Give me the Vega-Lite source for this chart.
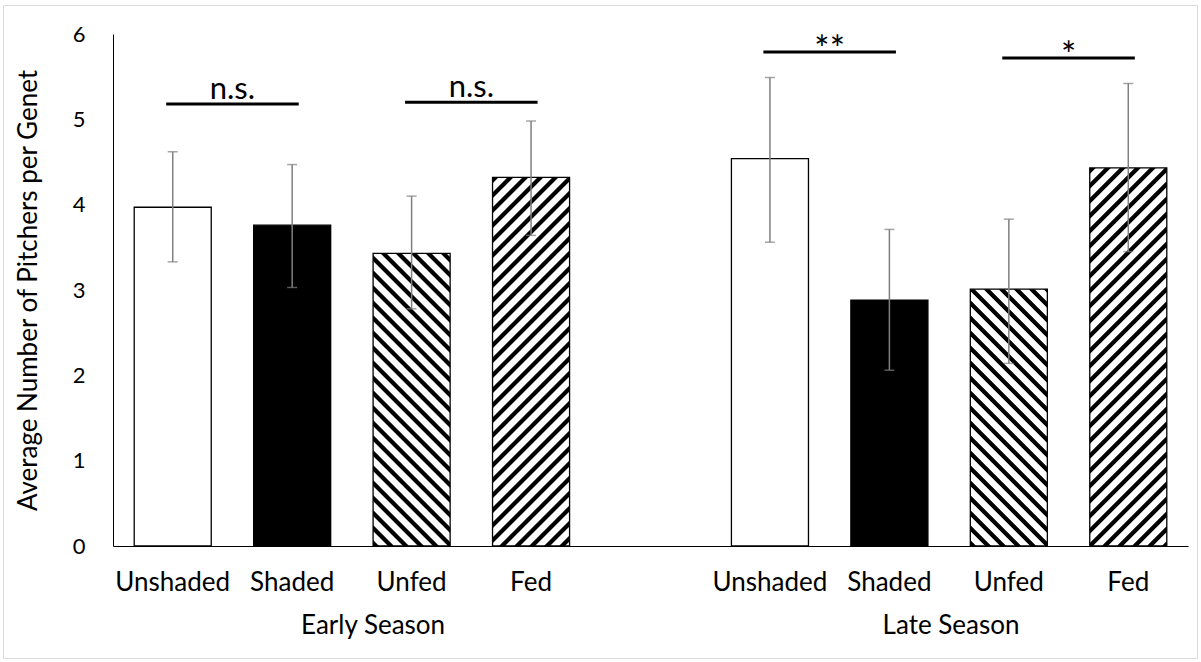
{
  "$schema": "https://vega.github.io/schema/vega-lite/v6.json",
  "width": 1194,
  "height": 653,
  "padding": {"left": 3, "top": 5, "right": 4, "bottom": 4},
  "autosize": {"type": "pad"},
  "background": "#ffffff",
  "config": {
    "view": {"stroke": "#d9d9d9", "strokeWidth": 1},
    "font": "Lato",
    "text": {"font": "Lato"}
  },
  "data": {
    "values": [
      {"key": "E|Unshaded", "season": "Early Season", "treatment": "Unshaded", "mean": 3.97, "lo": 3.33, "hi": 4.62},
      {"key": "E|Shaded", "season": "Early Season", "treatment": "Shaded", "mean": 3.76, "lo": 3.03, "hi": 4.47},
      {"key": "E|Unfed", "season": "Early Season", "treatment": "Unfed", "mean": 3.43, "lo": 2.78, "hi": 4.10},
      {"key": "E|Fed", "season": "Early Season", "treatment": "Fed", "mean": 4.32, "lo": 3.64, "hi": 4.98},
      {"key": "L|Unshaded", "season": "Late Season", "treatment": "Unshaded", "mean": 4.54, "lo": 3.56, "hi": 5.49},
      {"key": "L|Shaded", "season": "Late Season", "treatment": "Shaded", "mean": 2.88, "lo": 2.06, "hi": 3.71},
      {"key": "L|Unfed", "season": "Late Season", "treatment": "Unfed", "mean": 3.01, "lo": 2.14, "hi": 3.83},
      {"key": "L|Fed", "season": "Late Season", "treatment": "Fed", "mean": 4.43, "lo": 3.45, "hi": 5.42}
    ]
  },
  "layer": [
    {
      "mark": {"type": "bar", "stroke": "#000000", "strokeWidth": 1.3},
      "encoding": {
        "x": {
          "field": "key", "type": "nominal",
          "scale": {
            "domain": ["E|Unshaded", "E|Shaded", "E|Unfed", "E|Fed", "gap", "L|Unshaded", "L|Shaded", "L|Unfed", "L|Fed"],
            "range": [110, 1185], "paddingInner": 0.355, "paddingOuter": 0.1775
          },
          "axis": {
            "title": null, "labelExpr": "datum.value == 'gap' ? '' : split(datum.value, '|')[1]",
            "ticks": false, "tickSize": 0, "grid": false, "domainColor": "#000000", "domainWidth": 1,
            "labelFont": "Lato", "labelFontSize": 26, "labelColor": "#000000", "labelAngle": 0,
            "labelPadding": 44, "labelBaseline": "alphabetic", "offset": -112
          }
        },
        "y": {
          "field": "mean", "type": "quantitative",
          "scale": {"domain": [0, 6], "range": [541, 29], "nice": false},
          "axis": {
            "title": "Average Number of Pitchers per Genet", "values": [0, 1, 2, 3, 4, 5, 6], "format": "d",
            "ticks": false, "tickSize": 0, "grid": false, "domainColor": "#000000", "domainWidth": 1,
            "labelFont": "Lato", "labelFontSize": 22, "labelColor": "#000000", "labelPadding": 28,
            "titleFont": "Lato", "titleFontSize": 26, "titleFontWeight": "normal", "titleColor": "#000000",
            "titlePadding": 31, "offset": -110
          }
        },
        "fill": {
          "condition": [
            {"test": "datum.treatment === 'Shaded'", "value": "#000000"},
            {"test": "datum.key === 'E|Unfed'", "value": {"gradient": "linear", "x1": 0, "y1": 1, "x2": 0.4205, "y2": -0.5976, "stops": [
{"offset":0.0012,"color":"#000"},{"offset":0.0108,"color":"#000"},{"offset":0.0132,"color":"#fff"},{"offset":0.0288,"color":"#fff"},
{"offset":0.0312,"color":"#000"},{"offset":0.0408,"color":"#000"},{"offset":0.0432,"color":"#fff"},{"offset":0.0588,"color":"#fff"},
{"offset":0.0612,"color":"#000"},{"offset":0.0708,"color":"#000"},{"offset":0.0732,"color":"#fff"},{"offset":0.0888,"color":"#fff"},
{"offset":0.0912,"color":"#000"},{"offset":0.1008,"color":"#000"},{"offset":0.1032,"color":"#fff"},{"offset":0.1188,"color":"#fff"},
{"offset":0.1212,"color":"#000"},{"offset":0.1308,"color":"#000"},{"offset":0.1332,"color":"#fff"},{"offset":0.1488,"color":"#fff"},
{"offset":0.1512,"color":"#000"},{"offset":0.1608,"color":"#000"},{"offset":0.1632,"color":"#fff"},{"offset":0.1788,"color":"#fff"},
{"offset":0.1812,"color":"#000"},{"offset":0.1908,"color":"#000"},{"offset":0.1932,"color":"#fff"},{"offset":0.2088,"color":"#fff"},
{"offset":0.2112,"color":"#000"},{"offset":0.2208,"color":"#000"},{"offset":0.2232,"color":"#fff"},{"offset":0.2388,"color":"#fff"},
{"offset":0.2412,"color":"#000"},{"offset":0.2508,"color":"#000"},{"offset":0.2532,"color":"#fff"},{"offset":0.2688,"color":"#fff"},
{"offset":0.2712,"color":"#000"},{"offset":0.2808,"color":"#000"},{"offset":0.2832,"color":"#fff"},{"offset":0.2988,"color":"#fff"},
{"offset":0.3012,"color":"#000"},{"offset":0.3108,"color":"#000"},{"offset":0.3132,"color":"#fff"},{"offset":0.3288,"color":"#fff"},
{"offset":0.3312,"color":"#000"},{"offset":0.3408,"color":"#000"},{"offset":0.3432,"color":"#fff"},{"offset":0.3588,"color":"#fff"},
{"offset":0.3612,"color":"#000"},{"offset":0.3708,"color":"#000"},{"offset":0.3732,"color":"#fff"},{"offset":0.3888,"color":"#fff"},
{"offset":0.3912,"color":"#000"},{"offset":0.4008,"color":"#000"},{"offset":0.4032,"color":"#fff"},{"offset":0.4188,"color":"#fff"},
{"offset":0.4212,"color":"#000"},{"offset":0.4308,"color":"#000"},{"offset":0.4332,"color":"#fff"},{"offset":0.4488,"color":"#fff"},
{"offset":0.4512,"color":"#000"},{"offset":0.4608,"color":"#000"},{"offset":0.4632,"color":"#fff"},{"offset":0.4788,"color":"#fff"},
{"offset":0.4812,"color":"#000"},{"offset":0.4908,"color":"#000"},{"offset":0.4932,"color":"#fff"},{"offset":0.5088,"color":"#fff"},
{"offset":0.5112,"color":"#000"},{"offset":0.5208,"color":"#000"},{"offset":0.5232,"color":"#fff"},{"offset":0.5388,"color":"#fff"},
{"offset":0.5412,"color":"#000"},{"offset":0.5508,"color":"#000"},{"offset":0.5532,"color":"#fff"},{"offset":0.5688,"color":"#fff"},
{"offset":0.5712,"color":"#000"},{"offset":0.5808,"color":"#000"},{"offset":0.5832,"color":"#fff"},{"offset":0.5988,"color":"#fff"},
{"offset":0.6012,"color":"#000"},{"offset":0.6108,"color":"#000"},{"offset":0.6132,"color":"#fff"},{"offset":0.6288,"color":"#fff"},
{"offset":0.6312,"color":"#000"},{"offset":0.6408,"color":"#000"},{"offset":0.6432,"color":"#fff"},{"offset":0.6588,"color":"#fff"},
{"offset":0.6612,"color":"#000"},{"offset":0.6708,"color":"#000"},{"offset":0.6732,"color":"#fff"},{"offset":0.6888,"color":"#fff"},
{"offset":0.6912,"color":"#000"},{"offset":0.7008,"color":"#000"},{"offset":0.7032,"color":"#fff"},{"offset":0.7188,"color":"#fff"},
{"offset":0.7212,"color":"#000"},{"offset":0.7308,"color":"#000"},{"offset":0.7332,"color":"#fff"},{"offset":0.7488,"color":"#fff"}
            ]}},
            {"test": "datum.key === 'L|Unfed'", "value": {"gradient": "linear", "x1": 0, "y1": 1, "x2": 0.5359, "y2": -0.7863, "stops": [
{"offset":0.0012,"color":"#000"},{"offset":0.0108,"color":"#000"},{"offset":0.0132,"color":"#fff"},{"offset":0.0288,"color":"#fff"},
{"offset":0.0312,"color":"#000"},{"offset":0.0408,"color":"#000"},{"offset":0.0432,"color":"#fff"},{"offset":0.0588,"color":"#fff"},
{"offset":0.0612,"color":"#000"},{"offset":0.0708,"color":"#000"},{"offset":0.0732,"color":"#fff"},{"offset":0.0888,"color":"#fff"},
{"offset":0.0912,"color":"#000"},{"offset":0.1008,"color":"#000"},{"offset":0.1032,"color":"#fff"},{"offset":0.1188,"color":"#fff"},
{"offset":0.1212,"color":"#000"},{"offset":0.1308,"color":"#000"},{"offset":0.1332,"color":"#fff"},{"offset":0.1488,"color":"#fff"},
{"offset":0.1512,"color":"#000"},{"offset":0.1608,"color":"#000"},{"offset":0.1632,"color":"#fff"},{"offset":0.1788,"color":"#fff"},
{"offset":0.1812,"color":"#000"},{"offset":0.1908,"color":"#000"},{"offset":0.1932,"color":"#fff"},{"offset":0.2088,"color":"#fff"},
{"offset":0.2112,"color":"#000"},{"offset":0.2208,"color":"#000"},{"offset":0.2232,"color":"#fff"},{"offset":0.2388,"color":"#fff"},
{"offset":0.2412,"color":"#000"},{"offset":0.2508,"color":"#000"},{"offset":0.2532,"color":"#fff"},{"offset":0.2688,"color":"#fff"},
{"offset":0.2712,"color":"#000"},{"offset":0.2808,"color":"#000"},{"offset":0.2832,"color":"#fff"},{"offset":0.2988,"color":"#fff"},
{"offset":0.3012,"color":"#000"},{"offset":0.3108,"color":"#000"},{"offset":0.3132,"color":"#fff"},{"offset":0.3288,"color":"#fff"},
{"offset":0.3312,"color":"#000"},{"offset":0.3408,"color":"#000"},{"offset":0.3432,"color":"#fff"},{"offset":0.3588,"color":"#fff"},
{"offset":0.3612,"color":"#000"},{"offset":0.3708,"color":"#000"},{"offset":0.3732,"color":"#fff"},{"offset":0.3888,"color":"#fff"},
{"offset":0.3912,"color":"#000"},{"offset":0.4008,"color":"#000"},{"offset":0.4032,"color":"#fff"},{"offset":0.4188,"color":"#fff"},
{"offset":0.4212,"color":"#000"},{"offset":0.4308,"color":"#000"},{"offset":0.4332,"color":"#fff"},{"offset":0.4488,"color":"#fff"},
{"offset":0.4512,"color":"#000"},{"offset":0.4608,"color":"#000"},{"offset":0.4632,"color":"#fff"},{"offset":0.4788,"color":"#fff"},
{"offset":0.4812,"color":"#000"},{"offset":0.4908,"color":"#000"},{"offset":0.4932,"color":"#fff"},{"offset":0.5088,"color":"#fff"},
{"offset":0.5112,"color":"#000"},{"offset":0.5208,"color":"#000"},{"offset":0.5232,"color":"#fff"},{"offset":0.5388,"color":"#fff"},
{"offset":0.5412,"color":"#000"},{"offset":0.5508,"color":"#000"},{"offset":0.5532,"color":"#fff"},{"offset":0.5688,"color":"#fff"},
{"offset":0.5712,"color":"#000"},{"offset":0.5808,"color":"#000"},{"offset":0.5832,"color":"#fff"},{"offset":0.5988,"color":"#fff"},
{"offset":0.6012,"color":"#000"},{"offset":0.6108,"color":"#000"},{"offset":0.6132,"color":"#fff"},{"offset":0.6288,"color":"#fff"},
{"offset":0.6312,"color":"#000"},{"offset":0.6408,"color":"#000"},{"offset":0.6432,"color":"#fff"},{"offset":0.6588,"color":"#fff"},
{"offset":0.6612,"color":"#000"},{"offset":0.6708,"color":"#000"},{"offset":0.6732,"color":"#fff"},{"offset":0.6888,"color":"#fff"}
            ]}},
            {"test": "datum.key === 'E|Fed'", "value": {"gradient": "linear", "x1": 0, "y1": 0, "x2": 0.2716, "y2": 1.2997, "stops": [
{"offset":0.0012,"color":"#000"},{"offset":0.0108,"color":"#000"},{"offset":0.0132,"color":"#fff"},{"offset":0.0288,"color":"#fff"},
{"offset":0.0312,"color":"#000"},{"offset":0.0408,"color":"#000"},{"offset":0.0432,"color":"#fff"},{"offset":0.0588,"color":"#fff"},
{"offset":0.0612,"color":"#000"},{"offset":0.0708,"color":"#000"},{"offset":0.0732,"color":"#fff"},{"offset":0.0888,"color":"#fff"},
{"offset":0.0912,"color":"#000"},{"offset":0.1008,"color":"#000"},{"offset":0.1032,"color":"#fff"},{"offset":0.1188,"color":"#fff"},
{"offset":0.1212,"color":"#000"},{"offset":0.1308,"color":"#000"},{"offset":0.1332,"color":"#fff"},{"offset":0.1488,"color":"#fff"},
{"offset":0.1512,"color":"#000"},{"offset":0.1608,"color":"#000"},{"offset":0.1632,"color":"#fff"},{"offset":0.1788,"color":"#fff"},
{"offset":0.1812,"color":"#000"},{"offset":0.1908,"color":"#000"},{"offset":0.1932,"color":"#fff"},{"offset":0.2088,"color":"#fff"},
{"offset":0.2112,"color":"#000"},{"offset":0.2208,"color":"#000"},{"offset":0.2232,"color":"#fff"},{"offset":0.2388,"color":"#fff"},
{"offset":0.2412,"color":"#000"},{"offset":0.2508,"color":"#000"},{"offset":0.2532,"color":"#fff"},{"offset":0.2688,"color":"#fff"},
{"offset":0.2712,"color":"#000"},{"offset":0.2808,"color":"#000"},{"offset":0.2832,"color":"#fff"},{"offset":0.2988,"color":"#fff"},
{"offset":0.3012,"color":"#000"},{"offset":0.3108,"color":"#000"},{"offset":0.3132,"color":"#fff"},{"offset":0.3288,"color":"#fff"},
{"offset":0.3312,"color":"#000"},{"offset":0.3408,"color":"#000"},{"offset":0.3432,"color":"#fff"},{"offset":0.3588,"color":"#fff"},
{"offset":0.3612,"color":"#000"},{"offset":0.3708,"color":"#000"},{"offset":0.3732,"color":"#fff"},{"offset":0.3888,"color":"#fff"},
{"offset":0.3912,"color":"#000"},{"offset":0.4008,"color":"#000"},{"offset":0.4032,"color":"#fff"},{"offset":0.4188,"color":"#fff"},
{"offset":0.4212,"color":"#000"},{"offset":0.4308,"color":"#000"},{"offset":0.4332,"color":"#fff"},{"offset":0.4488,"color":"#fff"},
{"offset":0.4512,"color":"#000"},{"offset":0.4608,"color":"#000"},{"offset":0.4632,"color":"#fff"},{"offset":0.4788,"color":"#fff"},
{"offset":0.4812,"color":"#000"},{"offset":0.4908,"color":"#000"},{"offset":0.4932,"color":"#fff"},{"offset":0.5088,"color":"#fff"},
{"offset":0.5112,"color":"#000"},{"offset":0.5208,"color":"#000"},{"offset":0.5232,"color":"#fff"},{"offset":0.5388,"color":"#fff"},
{"offset":0.5412,"color":"#000"},{"offset":0.5508,"color":"#000"},{"offset":0.5532,"color":"#fff"},{"offset":0.5688,"color":"#fff"},
{"offset":0.5712,"color":"#000"},{"offset":0.5808,"color":"#000"},{"offset":0.5832,"color":"#fff"},{"offset":0.5988,"color":"#fff"},
{"offset":0.6012,"color":"#000"},{"offset":0.6108,"color":"#000"},{"offset":0.6132,"color":"#fff"},{"offset":0.6288,"color":"#fff"},
{"offset":0.6312,"color":"#000"},{"offset":0.6408,"color":"#000"},{"offset":0.6432,"color":"#fff"},{"offset":0.6588,"color":"#fff"},
{"offset":0.6612,"color":"#000"},{"offset":0.6708,"color":"#000"},{"offset":0.6732,"color":"#fff"},{"offset":0.6888,"color":"#fff"},
{"offset":0.6912,"color":"#000"},{"offset":0.7008,"color":"#000"},{"offset":0.7032,"color":"#fff"},{"offset":0.7188,"color":"#fff"},
{"offset":0.7212,"color":"#000"},{"offset":0.7308,"color":"#000"},{"offset":0.7332,"color":"#fff"},{"offset":0.7488,"color":"#fff"},
{"offset":0.7512,"color":"#000"},{"offset":0.7608,"color":"#000"},{"offset":0.7632,"color":"#fff"},{"offset":0.7788,"color":"#fff"},
{"offset":0.7812,"color":"#000"},{"offset":0.7908,"color":"#000"},{"offset":0.7932,"color":"#fff"},{"offset":0.8088,"color":"#fff"},
{"offset":0.8112,"color":"#000"},{"offset":0.8208,"color":"#000"},{"offset":0.8232,"color":"#fff"},{"offset":0.8388,"color":"#fff"},
{"offset":0.8412,"color":"#000"},{"offset":0.8508,"color":"#000"},{"offset":0.8532,"color":"#fff"},{"offset":0.8688,"color":"#fff"},
{"offset":0.8712,"color":"#000"},{"offset":0.8808,"color":"#000"},{"offset":0.8832,"color":"#fff"},{"offset":0.8988,"color":"#fff"},
{"offset":0.9012,"color":"#000"},{"offset":0.9108,"color":"#000"},{"offset":0.9132,"color":"#fff"},{"offset":0.9288,"color":"#fff"}
            ]}},
            {"test": "datum.key === 'L|Fed'", "value": {"gradient": "linear", "x1": 0, "y1": 0, "x2": 0.2588, "y2": 1.27, "stops": [
{"offset":0.0012,"color":"#000"},{"offset":0.0108,"color":"#000"},{"offset":0.0132,"color":"#fff"},{"offset":0.0288,"color":"#fff"},
{"offset":0.0312,"color":"#000"},{"offset":0.0408,"color":"#000"},{"offset":0.0432,"color":"#fff"},{"offset":0.0588,"color":"#fff"},
{"offset":0.0612,"color":"#000"},{"offset":0.0708,"color":"#000"},{"offset":0.0732,"color":"#fff"},{"offset":0.0888,"color":"#fff"},
{"offset":0.0912,"color":"#000"},{"offset":0.1008,"color":"#000"},{"offset":0.1032,"color":"#fff"},{"offset":0.1188,"color":"#fff"},
{"offset":0.1212,"color":"#000"},{"offset":0.1308,"color":"#000"},{"offset":0.1332,"color":"#fff"},{"offset":0.1488,"color":"#fff"},
{"offset":0.1512,"color":"#000"},{"offset":0.1608,"color":"#000"},{"offset":0.1632,"color":"#fff"},{"offset":0.1788,"color":"#fff"},
{"offset":0.1812,"color":"#000"},{"offset":0.1908,"color":"#000"},{"offset":0.1932,"color":"#fff"},{"offset":0.2088,"color":"#fff"},
{"offset":0.2112,"color":"#000"},{"offset":0.2208,"color":"#000"},{"offset":0.2232,"color":"#fff"},{"offset":0.2388,"color":"#fff"},
{"offset":0.2412,"color":"#000"},{"offset":0.2508,"color":"#000"},{"offset":0.2532,"color":"#fff"},{"offset":0.2688,"color":"#fff"},
{"offset":0.2712,"color":"#000"},{"offset":0.2808,"color":"#000"},{"offset":0.2832,"color":"#fff"},{"offset":0.2988,"color":"#fff"},
{"offset":0.3012,"color":"#000"},{"offset":0.3108,"color":"#000"},{"offset":0.3132,"color":"#fff"},{"offset":0.3288,"color":"#fff"},
{"offset":0.3312,"color":"#000"},{"offset":0.3408,"color":"#000"},{"offset":0.3432,"color":"#fff"},{"offset":0.3588,"color":"#fff"},
{"offset":0.3612,"color":"#000"},{"offset":0.3708,"color":"#000"},{"offset":0.3732,"color":"#fff"},{"offset":0.3888,"color":"#fff"},
{"offset":0.3912,"color":"#000"},{"offset":0.4008,"color":"#000"},{"offset":0.4032,"color":"#fff"},{"offset":0.4188,"color":"#fff"},
{"offset":0.4212,"color":"#000"},{"offset":0.4308,"color":"#000"},{"offset":0.4332,"color":"#fff"},{"offset":0.4488,"color":"#fff"},
{"offset":0.4512,"color":"#000"},{"offset":0.4608,"color":"#000"},{"offset":0.4632,"color":"#fff"},{"offset":0.4788,"color":"#fff"},
{"offset":0.4812,"color":"#000"},{"offset":0.4908,"color":"#000"},{"offset":0.4932,"color":"#fff"},{"offset":0.5088,"color":"#fff"},
{"offset":0.5112,"color":"#000"},{"offset":0.5208,"color":"#000"},{"offset":0.5232,"color":"#fff"},{"offset":0.5388,"color":"#fff"},
{"offset":0.5412,"color":"#000"},{"offset":0.5508,"color":"#000"},{"offset":0.5532,"color":"#fff"},{"offset":0.5688,"color":"#fff"},
{"offset":0.5712,"color":"#000"},{"offset":0.5808,"color":"#000"},{"offset":0.5832,"color":"#fff"},{"offset":0.5988,"color":"#fff"},
{"offset":0.6012,"color":"#000"},{"offset":0.6108,"color":"#000"},{"offset":0.6132,"color":"#fff"},{"offset":0.6288,"color":"#fff"},
{"offset":0.6312,"color":"#000"},{"offset":0.6408,"color":"#000"},{"offset":0.6432,"color":"#fff"},{"offset":0.6588,"color":"#fff"},
{"offset":0.6612,"color":"#000"},{"offset":0.6708,"color":"#000"},{"offset":0.6732,"color":"#fff"},{"offset":0.6888,"color":"#fff"},
{"offset":0.6912,"color":"#000"},{"offset":0.7008,"color":"#000"},{"offset":0.7032,"color":"#fff"},{"offset":0.7188,"color":"#fff"},
{"offset":0.7212,"color":"#000"},{"offset":0.7308,"color":"#000"},{"offset":0.7332,"color":"#fff"},{"offset":0.7488,"color":"#fff"},
{"offset":0.7512,"color":"#000"},{"offset":0.7608,"color":"#000"},{"offset":0.7632,"color":"#fff"},{"offset":0.7788,"color":"#fff"},
{"offset":0.7812,"color":"#000"},{"offset":0.7908,"color":"#000"},{"offset":0.7932,"color":"#fff"},{"offset":0.8088,"color":"#fff"},
{"offset":0.8112,"color":"#000"},{"offset":0.8208,"color":"#000"},{"offset":0.8232,"color":"#fff"},{"offset":0.8388,"color":"#fff"},
{"offset":0.8412,"color":"#000"},{"offset":0.8508,"color":"#000"},{"offset":0.8532,"color":"#fff"},{"offset":0.8688,"color":"#fff"},
{"offset":0.8712,"color":"#000"},{"offset":0.8808,"color":"#000"},{"offset":0.8832,"color":"#fff"},{"offset":0.8988,"color":"#fff"},
{"offset":0.9012,"color":"#000"},{"offset":0.9108,"color":"#000"},{"offset":0.9132,"color":"#fff"},{"offset":0.9288,"color":"#fff"}
            ]}}
          ],
          "value": "#ffffff"
        }
      }
    },
    {
      "mark": {"type": "rule", "color": "#7f7f7f", "strokeWidth": 1.5},
      "encoding": {
        "x": {"field": "key", "type": "nominal"},
        "y": {"field": "lo", "type": "quantitative", "title": "Average Number of Pitchers per Genet"},
        "y2": {"field": "hi"}
      }
    },
    {
      "mark": {"type": "tick", "color": "#7f7f7f", "thickness": 1.5, "size": 10},
      "encoding": {
        "x": {"field": "key", "type": "nominal"},
        "y": {"field": "hi", "type": "quantitative", "title": "Average Number of Pitchers per Genet"}
      }
    },
    {
      "mark": {"type": "tick", "color": "#7f7f7f", "thickness": 1.5, "size": 10},
      "encoding": {
        "x": {"field": "key", "type": "nominal"},
        "y": {"field": "lo", "type": "quantitative", "title": "Average Number of Pitchers per Genet"}
      }
    },
    {
      "data": {"values": [
        {"from": "E|Unshaded", "to": "E|Shaded", "level": 5.18, "label": "n.s."},
        {"from": "E|Unfed", "to": "E|Fed", "level": 5.2, "label": "n.s."},
        {"from": "L|Unshaded", "to": "L|Shaded", "level": 5.79, "label": "**"},
        {"from": "L|Unfed", "to": "L|Fed", "level": 5.72, "label": "*"}
      ]},
      "layer": [
        {
          "mark": {"type": "rule", "color": "#000000", "strokeWidth": 3},
          "encoding": {
            "x": {"field": "from", "type": "nominal", "bandPosition": 0.415},
            "x2": {"field": "to", "bandPosition": 0.585},
            "y": {"field": "level", "type": "quantitative", "title": "Average Number of Pitchers per Genet"}
          }
        },
        {
          "transform": [{"filter": "datum.label === 'n.s.'"}],
          "mark": {"type": "text", "font": "Lato", "fontSize": 31, "color": "#000000", "baseline": "alphabetic", "align": "center", "dy": -5},
          "encoding": {
            "x": {"field": "from", "type": "nominal", "bandPosition": 1.275},
            "y": {"field": "level", "type": "quantitative", "title": "Average Number of Pitchers per Genet"},
            "text": {"field": "label"}
          }
        },
        {
          "transform": [{"filter": "datum.label !== 'n.s.'"}],
          "mark": {"type": "text", "font": "Lato", "fontSize": 36, "color": "#000000", "baseline": "alphabetic", "align": "center", "dy": 10},
          "encoding": {
            "x": {"field": "from", "type": "nominal", "bandPosition": 1.275},
            "y": {"field": "level", "type": "quantitative", "title": "Average Number of Pitchers per Genet"},
            "text": {"field": "label"}
          }
        }
      ]
    },
    {
      "data": {"values": [{"season": "Early Season"}]},
      "mark": {"type": "text", "font": "Lato", "fontSize": 26, "color": "#000000", "baseline": "alphabetic", "align": "center"},
      "encoding": {
        "x": {"datum": "E|Unfed", "type": "nominal", "bandPosition": 0},
        "y": {"datum": -1.03, "type": "quantitative"},
        "text": {"field": "season"}
      }
    },
    {
      "data": {"values": [{"season": "Late Season"}]},
      "mark": {"type": "text", "font": "Lato", "fontSize": 26, "color": "#000000", "baseline": "alphabetic", "align": "center"},
      "encoding": {
        "x": {"datum": "L|Shaded", "type": "nominal", "bandPosition": 1.3},
        "y": {"datum": -1.03, "type": "quantitative"},
        "text": {"field": "season"}
      }
    }
  ]
}
